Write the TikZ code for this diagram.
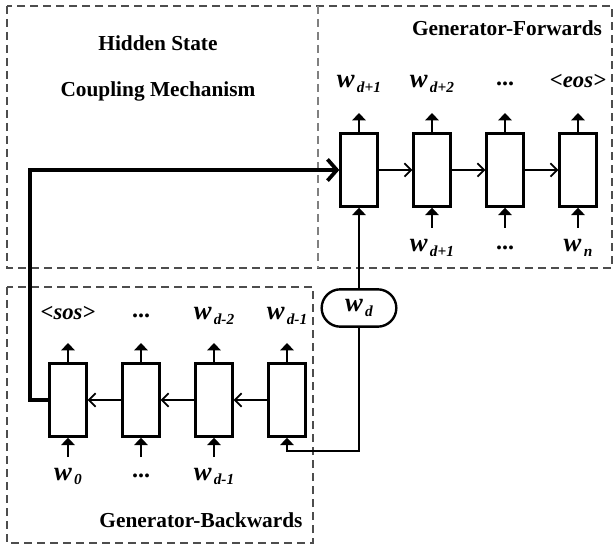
\documentclass[tikz,border=0pt]{standalone}
\usepackage{fontspec}
\setmainfont{Liberation Serif}
\usetikzlibrary{arrows.meta,positioning,calc}
\definecolor{frame}{HTML}{4D4D4D}
\definecolor{divide}{HTML}{808080}
\newcommand{\wrd}[1]{{\fontsize{20}{20}\selectfont\bfseries\itshape w}\,\raisebox{-3.5pt}{\fontsize{11.5}{11.5}\selectfont\bfseries\itshape #1}}
\newcommand{\tagw}[1]{{\fontsize{17}{17}\selectfont\bfseries\itshape \textless #1\textgreater}}
\newcommand{\more}{\raisebox{2pt}{\fontsize{18}{18}\selectfont\bfseries ...}}

\begin{document}
\begin{tikzpicture}[
  x=0.75pt,y=-0.75pt,
  cell/.style={draw,line width=1.8pt,minimum width=27.75pt,minimum height=54.75pt,inner sep=0pt},
  word/.style={draw,line width=1.8pt,rounded corners=14pt,minimum width=56pt,minimum height=28pt,inner sep=0pt},
  feed/.style={line width=1.5pt,-{Triangle[width=10pt,length=5.5pt]}},
  link/.style={line width=1.3pt,-{Straight Barb[length=5pt,width=10pt]}},
  couple/.style={line width=2.8pt,-{Straight Barb[length=7pt,width=16pt]}},
  grp/.style={draw=frame,line width=1.3pt,dash pattern=on 6pt off 3.75pt},
  ttl/.style={font=\fontsize{16}{16}\selectfont\bfseries,anchor=base,inner sep=0pt},
  lbl/.style={anchor=base,inner sep=0pt}
]
\useasboundingbox (0,0) rectangle (616,548);
% --- frames ---------------------------------------------------------------
\draw[grp] (7,6) rectangle (612,268);
\draw[grp,draw=divide] (318,6) -- (318,268);
\draw[grp] (7,287) rectangle (313,543);
\node[ttl] (hs) at (158,51) {Hidden State};
\node[ttl] (cm) at (158,97) {Coupling Mechanism};
\node[ttl] (gf) at (507,36) {Generator-Forwards};
\node[ttl] (gb) at (201,527) {Generator-Backwards};
% --- generator forwards ---------------------------------------------------
\foreach \i/\x/\t in {1/359/{\wrd{d+1}},2/432/{\wrd{d+2}},3/505/{\more},4/578/{\tagw{eos}}}{
  \node[cell] (f\i) at (\x,170) {};
  \coordinate (fo\i) at (\x,113);
  \draw[feed] (f\i.north) -- (fo\i);
  \node[lbl] (fy\i) at (\x,88) {\t};
}
\foreach \i/\x/\t in {2/432/{\wrd{d+1}},3/505/{\more},4/578/{\wrd{n}}}{
  \coordinate (fi\i) at (\x,228);
  \draw[feed] (fi\i) -- (f\i.south);
  \node[lbl] (fx\i) at (\x,252) {\t};
}
\foreach \i/\j in {1/2,2/3,3/4}{\draw[link] (f\i.east) -- (f\j.west);}
% --- generator backwards --------------------------------------------------
\foreach \i/\x/\t in {1/68/{\tagw{sos}},2/141/{\more},3/214/{\wrd{d-2}},4/287/{\wrd{d-1}}}{
  \node[cell] (b\i) at (\x,400) {};
  \coordinate (bo\i) at (\x,343);
  \draw[feed] (b\i.north) -- (bo\i);
  \node[lbl] (by\i) at (\x,320) {\t};
}
\foreach \i/\x/\t in {1/68/{\wrd{0}},2/141/{\more},3/214/{\wrd{d-1}}}{
  \coordinate (bi\i) at (\x,457);
  \draw[feed] (bi\i) -- (b\i.south);
  \node[lbl] (bx\i) at (\x,480) {\t};
}
\foreach \i/\j in {1/2,2/3,3/4}{\draw[link] (b\j.west) -- (b\i.east);}
% --- shared word and coupling ---------------------------------------------
\node[word] (wd) at (359,308) {\wrd{d}};
\draw[feed] (wd.north) -- (f1.south);
\coordinate (turn) at (359,451);
\draw[feed] (wd.south) -- (turn) -| (b4.south);
\coordinate (bend) at (30,400);
\draw[couple] (b1.west) -- (bend) |- (f1.west);
\end{tikzpicture}
\end{document}
